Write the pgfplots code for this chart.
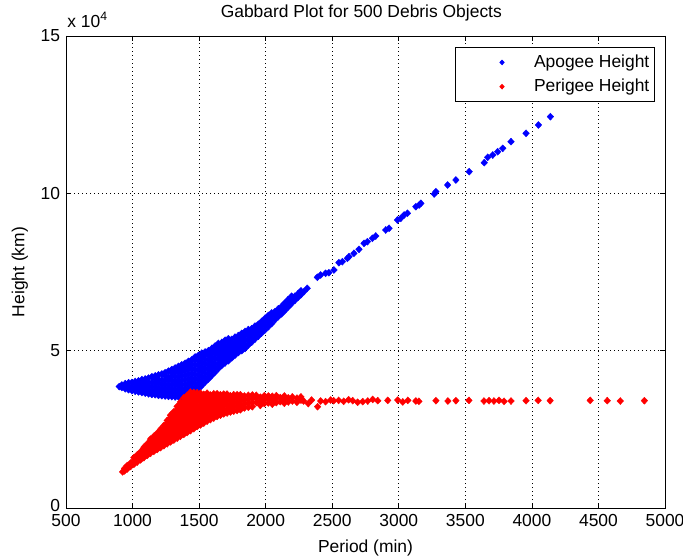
\documentclass[border=0pt]{standalone}
\usepackage{pgfplots}
\pgfplotsset{compat=1.18}
\usepackage{fontspec}
\setmainfont{Liberation Sans}
\definecolor{mblue}{RGB}{0,0,255}
\definecolor{mred}{RGB}{255,0,0}
\newcommand{\ff}{\fontsize{17.5}{20}\selectfont}
\begin{document}
\ff
\begin{tikzpicture}
\begin{axis}[
  scale only axis,
  clip mode=individual,
  width=599bp, height=472bp,
  xmin=500, xmax=5000, ymin=0, ymax=150000,
  xtick={500,1000,...,5000},
  ytick={0,50000,100000,150000},
  yticklabels={\raisebox{5bp}{0},5,10,15},
  scaled x ticks=false, scaled y ticks=false,
  /pgf/number format/.cd, 1000 sep={}, assume math mode=true, /pgfplots/.cd,
  tick align=inside, tick pos=both,
  major tick length=5bp,
  every tick/.style={black, line width=0.6bp},
  axis line style={black, line width=0.9bp},
  grid=major,
  major grid style={black, line width=0.7bp, dash pattern=on 0.8bp off 3.2bp},
  ticklabel style={font=\ff},
  xlabel={Period (min)},
  ylabel={Height (km)},
  xlabel style={at={(axis description cs:0.5,-0.085)}, anchor=center, font=\ff},
  ylabel style={at={(axis description cs:-0.077,0.5)}, anchor=center, font=\ff},
  title={Gabbard Plot for 500 Debris Objects},
  title style={at={(axis description cs:0.493,1.0275)}, anchor=base, inner sep=0pt, font=\ff},
  legend style={at={(axis description cs:0.983,0.977)}, anchor=north east, draw=black, line width=0.9bp, fill=white, inner xsep=3bp, inner ysep=5.5bp, row sep=5bp, font=\ff, cells={anchor=west}},
  legend image code/.code={\path[draw=none] (-44bp,0bp) rectangle (30bp,0bp); \draw[#1, mark size=2.2bp] plot coordinates {(0bp,0bp)};},
]
\addplot[only marks, mark=diamond*, mark size=3.5bp, color=mblue, mark options={draw=mblue, fill=mblue, xscale=1.25}] coordinates {
(900,38600)
(920,38300) (920,39100)
(945,37900) (945,39500)
(970,37600) (970,38700) (970,39800)
(995,37300) (995,38500) (995,39900)
(1020,37100) (1020,38200) (1020,39300) (1020,40200)
(1045,36900) (1045,38000) (1045,39200) (1045,40400)
(1070,36700) (1070,37800) (1070,38900) (1070,40000) (1070,40800)
(1095,36500) (1095,37600) (1095,38800) (1095,40000) (1095,41000)
(1120,36300) (1120,37400) (1120,38600) (1120,39800) (1120,41300)
(1145,36100) (1145,37300) (1145,38500) (1145,39900) (1145,41700)
(1170,36000) (1170,37200) (1170,38500) (1170,39700) (1170,40900) (1170,42000)
(1195,35800) (1195,37000) (1195,38200) (1195,39600) (1195,40800) (1195,42300)
(1220,35700) (1220,36900) (1220,38100) (1220,39400) (1220,40700) (1220,42600)
(1245,35600) (1245,36800) (1245,38000) (1245,39300) (1245,40500) (1245,42000) (1245,43000)
(1270,35500) (1270,36700) (1270,38000) (1270,39200) (1270,40600) (1270,41700) (1270,43500)
(1295,35400) (1295,36600) (1295,37900) (1295,39200) (1295,40500) (1295,41800) (1295,43000) (1295,44000)
(1320,35300) (1320,36500) (1320,37800) (1320,39100) (1320,40400) (1320,41800) (1320,43200) (1320,44500)
(1345,35300) (1345,36500) (1345,37700) (1345,39000) (1345,40300) (1345,41700) (1345,43100) (1345,44200) (1345,45000)
(1370,35300) (1370,36500) (1370,37800) (1370,39200) (1370,40600) (1370,42000) (1370,43400) (1370,44700) (1370,45500)
(1395,35300) (1395,36600) (1395,37900) (1395,39300) (1395,40700) (1395,42200) (1395,43600) (1395,45000) (1395,46000)
(1420,35400) (1420,36800) (1420,38200) (1420,39600) (1420,41000) (1420,42500) (1420,44000) (1420,45400) (1420,46600)
(1445,35700) (1445,37000) (1445,38500) (1445,39900) (1445,41300) (1445,42800) (1445,44300) (1445,45700) (1445,47100)
(1470,36800) (1470,38200) (1470,39600) (1470,41000) (1470,42500) (1470,44000) (1470,45500) (1470,47000) (1470,48000)
(1495,37800) (1495,39300) (1495,40800) (1495,42300) (1495,43800) (1495,45300) (1495,46800) (1495,48500)
(1520,38900) (1520,40300) (1520,41800) (1520,43300) (1520,44800) (1520,46300) (1520,47800) (1520,49200)
(1545,40000) (1545,41400) (1545,42900) (1545,44300) (1545,45800) (1545,47300) (1545,48800) (1545,49600)
(1570,41000) (1570,42500) (1570,44000) (1570,45500) (1570,47000) (1570,48500) (1570,50000)
(1595,42100) (1595,43600) (1595,45000) (1595,46500) (1595,48000) (1595,49400) (1595,50700)
(1620,43200) (1620,44600) (1620,46000) (1620,47500) (1620,49000) (1620,50400) (1620,51500)
(1645,44300) (1645,45700) (1645,47200) (1645,48600) (1645,50000) (1645,51500) (1645,52300)
(1670,45300) (1670,46700) (1670,48200) (1670,49600) (1670,51000) (1670,52600)
(1695,46100) (1695,47500) (1695,49000) (1695,50400) (1695,51800) (1695,53300)
(1720,46800) (1720,48300) (1720,49700) (1720,51100) (1720,52600) (1720,53800)
(1745,47700) (1745,49100) (1745,50500) (1745,52000) (1745,53600)
(1770,48600) (1770,50000) (1770,51400) (1770,52800) (1770,54300)
(1795,49400) (1795,50800) (1795,52200) (1795,53600) (1795,54800)
(1820,50000) (1820,51500) (1820,53000) (1820,54300) (1820,55500)
(1845,50700) (1845,52100) (1845,53500) (1845,55000) (1845,56100)
(1870,51800) (1870,53200) (1870,54600) (1870,55900) (1870,56700)
(1895,52700) (1895,54100) (1895,55500) (1895,57000)
(1920,53700) (1920,55100) (1920,56500) (1920,57800)
(1945,54600) (1945,56000) (1945,57400) (1945,58400)
(1970,55600) (1970,57000) (1970,58400) (1970,59300)
(1995,56600) (1995,58000) (1995,59400) (1995,60300)
(2020,57600) (2020,59000) (2020,60300) (2020,61200)
(2045,58600) (2045,60000) (2045,61300) (2045,62000)
(2070,59800) (2070,61100) (2070,62400)
(2095,60800) (2095,62100) (2095,63300)
(2120,61700) (2120,63000) (2120,64100)
(2145,62800) (2145,64100) (2145,65200)
(2170,63900) (2170,65200) (2170,66300)
(2195,65000) (2195,66300) (2195,67300)
(2220,66000) (2220,67300)
(2245,67000) (2245,68200)
(2265,67800) (2265,69000)
(2287,68740) (2312,69820) (2388,73320) (2413,74050) (2450,74590) (2475,74780)
(2513,75640) (2550,77960) (2576,78280) (2614,79350) (2626,79860) (2663,80940)
(2701,82210) (2739,84120) (2764,84630) (2802,85710) (2827,86440) (2902,88350)
(2927,88890) (2990,91530) (3015,92070) (3040,93120) (3065,93660) (3128,95750)
(3153,96290) (3166,96830) (3266,99790) (3279,100520) (3367,102650) (3429,104240)
(3529,106880) (3642,109740) (3668,111450) (3706,112180) (3743,113230) (3781,114310)
(3843,116410) (3956,119080) (4049,121720) (4139,124360)
};
\addlegendentry{Apogee Height}
\addplot[only marks, mark=diamond*, mark size=3.5bp, color=mred, mark options={draw=mred, fill=mred, xscale=1.25}] coordinates {
(925,11500)
(940,11800) (940,12600)
(960,12400) (960,13500)
(985,13200) (985,14300)
(1010,13900) (1010,15100) (1010,16000)
(1035,14600) (1035,15800) (1035,16900)
(1060,15300) (1060,16600) (1060,17900)
(1085,16000) (1085,17300) (1085,18600) (1085,19300)
(1110,16700) (1110,18000) (1110,19300) (1110,20400)
(1135,17400) (1135,18700) (1135,20000) (1135,21300) (1135,21900)
(1160,18000) (1160,19300) (1160,20600) (1160,21900) (1160,22800)
(1185,18600) (1185,19900) (1185,21200) (1185,22500) (1185,23800)
(1210,19200) (1210,20500) (1210,21800) (1210,23100) (1210,24400) (1210,25000)
(1235,19800) (1235,21100) (1235,22400) (1235,23700) (1235,25000) (1235,26200)
(1260,20400) (1260,21700) (1260,23000) (1260,24300) (1260,25600) (1260,26900) (1260,27800)
(1285,21000) (1285,22300) (1285,23600) (1285,24900) (1285,26200) (1285,27500) (1285,28800) (1285,29500)
(1310,21600) (1310,22900) (1310,24200) (1310,25500) (1310,26800) (1310,28100) (1310,29400) (1310,30600)
(1335,22200) (1335,23500) (1335,24800) (1335,26100) (1335,27400) (1335,28700) (1335,30000) (1335,31300) (1335,32300)
(1360,22800) (1360,24100) (1360,25400) (1360,26700) (1360,28000) (1360,29300) (1360,30600) (1360,31900) (1360,33200) (1360,33700)
(1385,23400) (1385,24700) (1385,26000) (1385,27300) (1385,28600) (1385,29900) (1385,31200) (1385,32500) (1385,33800) (1385,35000)
(1410,24000) (1410,25300) (1410,26600) (1410,27900) (1410,29200) (1410,30500) (1410,31800) (1410,33100) (1410,34400) (1410,35800)
(1435,24600) (1435,25900) (1435,27200) (1435,28500) (1435,29800) (1435,31100) (1435,32400) (1435,33700) (1435,35000) (1435,36300) (1435,36800)
(1460,25200) (1460,26500) (1460,27800) (1460,29100) (1460,30400) (1460,31700) (1460,33000) (1460,34300) (1460,35600) (1460,36700)
(1485,25900) (1485,27200) (1485,28500) (1485,29800) (1485,31100) (1485,32400) (1485,33700) (1485,35000) (1485,36300) (1485,36600)
(1510,26400) (1510,27700) (1510,29000) (1510,30300) (1510,31600) (1510,32900) (1510,34200) (1510,35500) (1510,36500)
(1535,27000) (1535,28300) (1535,29600) (1535,30900) (1535,32200) (1535,33500) (1535,34800) (1535,36100)
(1560,27600) (1560,28900) (1560,30200) (1560,31500) (1560,32800) (1560,34100) (1560,35400) (1560,36500)
(1585,28100) (1585,29400) (1585,30700) (1585,32000) (1585,33300) (1585,34600) (1585,35900)
(1610,28600) (1610,29900) (1610,31200) (1610,32500) (1610,33800) (1610,35100) (1610,36300)
(1635,29100) (1635,30400) (1635,31700) (1635,33000) (1635,34300) (1635,35600) (1635,36300)
(1660,29500) (1660,30800) (1660,32100) (1660,33400) (1660,34700) (1660,36000)
(1685,29900) (1685,31200) (1685,32500) (1685,33800) (1685,35100) (1685,36200)
(1710,30200) (1710,31500) (1710,32800) (1710,34100) (1710,35400) (1710,36200)
(1735,30500) (1735,31800) (1735,33100) (1735,34400) (1735,35700)
(1760,30800) (1760,32100) (1760,33400) (1760,34700) (1760,36000)
(1785,31000) (1785,32300) (1785,33600) (1785,34900) (1785,36000)
(1810,31200) (1810,32500) (1810,33800) (1810,35100) (1810,36000)
(1840,31800) (1840,33000) (1840,34300) (1840,35600)
(1870,32000) (1870,33300) (1870,34600) (1870,35800)
(1900,32200) (1900,33500) (1900,34800) (1900,35900)
(1930,33500) (1930,34800) (1930,35800)
(1960,32600) (1960,33900) (1960,35200)
(1990,33200) (1990,34500) (1990,35700)
(2020,33400) (2020,34600) (2020,35600)
(2050,33000) (2050,34300) (2050,35500)
(2080,33500) (2080,34800) (2080,35700)
(2110,33800) (2110,35100)
(2140,33300) (2140,34600) (2140,35600)
(2170,33700) (2170,35000)
(2200,34000) (2200,35300)
(2235,33600) (2235,34900)
(2265,34300) (2265,35300)
(2285,34000) (2320,33200) (2345,34300) (2390,32200) (2413,34000) (2450,33800)
(2488,34300) (2511,34100) (2548,34200) (2586,33900) (2623,34400) (2654,34100)
(2691,33600) (2729,33800) (2767,34000) (2804,34500) (2842,34100) (2917,34200)
(2992,34300) (3030,33700) (3068,34200) (3128,34000) (3151,33900) (3279,34100)
(3369,34000) (3429,34100) (3527,34200) (3640,34000) (3678,34100) (3715,34000)
(3753,34200) (3791,33900) (3843,34000) (3956,34100) (4047,34200) (4137,34100)
(4438,34200) (4566,34100) (4664,34000) (4845,34100)
};
\addlegendentry{Perigee Height}
\node[anchor=base west, inner sep=0pt, font=\ff] at (axis description cs:0.002,1.019) {x 10\textsuperscript{4}};
\end{axis}
\pgfresetboundingbox
\useasboundingbox ([shift={(-66bp,-51bp)}]current axis.south west) rectangle ([shift={(18bp,36bp)}]current axis.north east);
\end{tikzpicture}
\end{document}
